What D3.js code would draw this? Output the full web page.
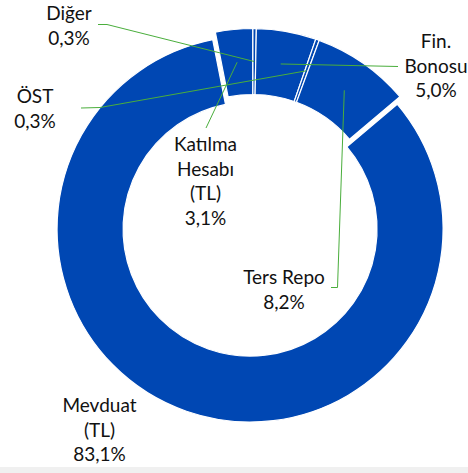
<!DOCTYPE html>
<html>
<head>
<meta charset="utf-8">
<script src="https://cdn.jsdelivr.net/npm/d3@7"></script>
<style>
  html, body { margin: 0; padding: 0; background: #fff; }
  #chart text { font-family: Lato, "Noto Sans", sans-serif; font-size: 19px; fill: #111; }
</style>
</head>
<body>
<div id="chart"></div>
<script>
// shares of the portfolio, clockwise from 12 o'clock
const categories = ['Diğer', 'Fin. Bonosu', 'ÖST', 'Ters Repo', 'Mevduat (TL)', 'Katılma Hesabı (TL)'];
const shares = [0.3, 5.0, 0.3, 8.2, 83.1, 3.1];
const labelLines = [['Diğer'], ['Fin.', 'Bonosu'], ['ÖST'], ['Ters Repo'], ['Mevduat', '(TL)'], ['Katılma', 'Hesabı', '(TL)']];

let width = 468, height = 473;
let cx = 252.7, cy = 221.5,
    outerR = 193, innerR = 127,
    lineH = 24.5;
let sliceColor = '#0047b3',
    leaderColor = '#4aae3c';

// where each label sits (centre x, first baseline) and where its leader starts
const labelPos = [
  {x: 69, y: 20, lead: [[98, 24.5], [107, 24.5]]},
  {x: 436, y: 48, lead: [[398, 66.5]]},
  {x: 35, y: 103, lead: [[81, 108], [100, 107.5]]},
  {x: 284, y: 284, lead: [[331, 287.5], [337.5, 287.5]]},
  {x: 99.5, y: 412, lead: null},
  {x: 205.5, y: 151, lead: [[206, 128]]}
];
const explode = [0, 0, 0, 0, 8, 0];

let fmt = v => d3.format('.1f')(v).replace('.', ',') + '%';

let svg = d3.select('#chart').append('svg')
    .attr('width', width)
    .attr('height', height);

svg.append('rect')
    .attr('x', 0).attr('y', height - 6)
    .attr('width', width).attr('height', 6)
    .attr('fill', '#f0f0f0');

let pie = d3.pie().sort(null).value(d => d);
let arcs = pie(shares);

let arc = d3.arc().innerRadius(innerR).outerRadius(outerR);

let g = svg.append('g').attr('transform', 'translate(' + cx + ',' + cy + ')');

g.selectAll('path')
    .data(arcs)
    .enter()
    .append('path')
    .attr('d', arc)
    .attr('transform', function(d, i) {
      let a = (d.startAngle + d.endAngle) / 2;
      return 'translate(' + (Math.sin(a) * explode[i]) + ',' + (-Math.cos(a) * explode[i]) + ')';
    })
    .attr('fill', sliceColor)
    .attr('stroke', '#fff')
    .attr('stroke-width', 1.2);

// leader lines: label side -> middle of the ring
arcs.forEach(function(d, i) {
  let lp = labelPos[i];
  if (!lp.lead) return;
  let c = arc.centroid(d);
  let pts = lp.lead.concat([[c[0] + cx, c[1] + cy]]);
  svg.append('path')
      .attr('d', d3.line()(pts))
      .attr('fill', 'none')
      .attr('stroke', leaderColor)
      .attr('stroke-width', 1);
});

// labels
arcs.forEach(function(d, i) {
  let lp = labelPos[i];
  let lines = labelLines[i].concat([fmt(shares[i])]);
  let t = svg.append('text').attr('text-anchor', 'middle');
  lines.forEach(function(s, k) {
    t.append('tspan')
        .attr('x', lp.x)
        .attr('y', lp.y + k * lineH)
        .text(s);
  });
});
</script>
</body>
</html>
